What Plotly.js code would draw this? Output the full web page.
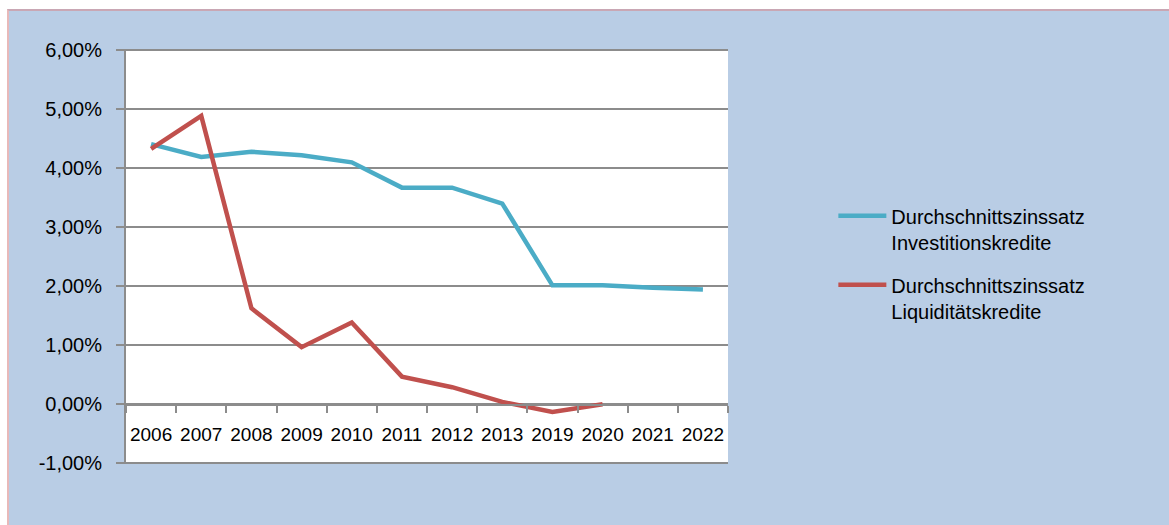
<!DOCTYPE html>
<html>
<head>
<meta charset="utf-8">
<script src="https://cdn.plot.ly/plotly-3.0.1.min.js"></script>
<style>
  html, body { margin: 0; padding: 0; background: #ffffff; }
  #chart { position: absolute; left: 7px; top: 9px; width: 1162px; height: 516px;
           border-top: 2px solid #c9a7b4; border-left: 2px solid #e8b9b9; box-sizing: border-box; }
</style>
</head>
<body>
<div id="chart"></div>
<script>
const years = ["2006","2007","2008","2009","2010","2011","2012","2013","2019","2020","2021","2022"];
const investitionskredite = [4.41, 4.19, 4.28, 4.22, 4.10, 3.67, 3.67, 3.40, 2.01, 2.01, 1.97, 1.94];
const liquiditaetskredite = [4.33, 4.89, 1.62, 0.96, 1.38, 0.46, 0.28, 0.03, -0.14, -0.01, null, null];
const seriesNames = ["Durchschnittszinssatz<br>Investitionskredite", "Durchschnittszinssatz<br>Liquiditätskredite"];
const yTicks = [-1, 0, 1, 2, 3, 4, 5, 6];
const yTickText = yTicks.map(v => v.toFixed(2).replace(".", ",") + "%");

const font = "Liberation Sans, Arial, sans-serif";

const traces = [
  { x: years, y: investitionskredite.map(v => v / 100), name: seriesNames[0], legendgroup: "a", type: "scatter", mode: "lines",
    line: { color: "#4bacc6", width: 4.5 } },
  { x: years, y: liquiditaetskredite.map(v => v === null ? null : v / 100), name: seriesNames[1], legendgroup: "b", type: "scatter", mode: "lines",
    line: { color: "#c0504d", width: 4.5 } }
];

const layout = {
  width: 1160, height: 514,
  paper_bgcolor: "#b9cde5",
  plot_bgcolor: "#ffffff",
  margin: { l: 117, r: 441, t: 38, b: 61 },
  font: { family: font, size: 20, color: "#000000" },
  showlegend: true,
  legend: { x: 1.175, y: 0.645, xanchor: "left", yanchor: "top", bgcolor: "rgba(0,0,0,0)",
            font: { family: font, size: 20, color: "#000000" }, tracegroupgap: 14, valign: "top",
            itemwidth: 48 },
  xaxis: {
    type: "category",
    range: [-0.5, 11.5],
    anchor: "free", position: 1 / 7,
    showline: true, linecolor: "#8c8c8c", linewidth: 2,
    ticks: "outside", ticklen: 7, tickcolor: "#8c8c8c", tickwidth: 2,
    tickson: "boundaries",
    tickangle: 0,
    ticklabelstandoff: 12,
    showgrid: false, zeroline: false,
    tickfont: { family: font, size: 19, color: "#000000" },
    fixedrange: true
  },
  yaxis: {
    range: [-0.01025, 0.06025],
    tickvals: yTicks.map(v => v / 100),
    ticktext: yTickText,
    showline: true, linecolor: "#8c8c8c", linewidth: 2,
    ticks: "outside", ticklen: 8, tickcolor: "#8c8c8c", tickwidth: 2,
    ticklabelstandoff: 10,
    showgrid: true, gridcolor: "#8c8c8c", gridwidth: 2,
    zeroline: false,
    tickfont: { family: font, size: 20, color: "#000000" },
    fixedrange: true
  }
};

Plotly.newPlot("chart", traces, layout, { displayModeBar: false, staticPlot: true });
</script>
</body>
</html>
